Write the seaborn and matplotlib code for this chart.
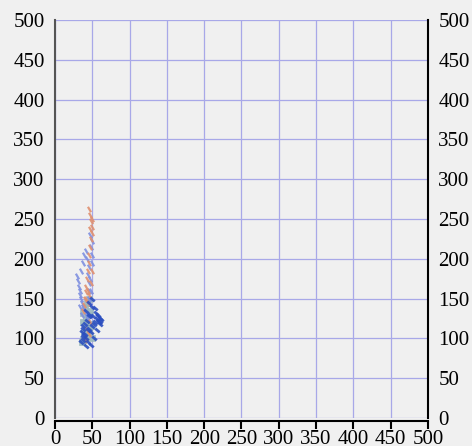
import pandas as pd
import matplotlib.pyplot as plt
import seaborn as sns

# 점 데이터 (그림에서 눈으로 읽은 값)
dark_x = [35, 37, 38, 40, 42, 44, 46, 48, 50, 52, 54, 56, 58, 60, 62, 40, 43, 47, 51, 55,
          59, 38, 41, 45, 49, 53, 57, 36, 39, 44, 48, 52, 56, 60, 46, 50, 37, 42, 61, 58]
dark_y = [95, 98, 102, 105, 100, 110, 112, 108, 115, 118, 120, 125, 128, 126, 124, 118, 122, 130, 128, 132,
          120, 112, 135, 128, 140, 138, 130, 108, 104, 96, 92, 100, 110, 122, 145, 150, 115, 90, 118, 122]

light_x = [30, 31, 32, 33, 34, 35, 36, 38, 40, 42, 44, 46, 48, 47, 45, 43, 41, 39, 37, 35,
           48, 49, 50, 46, 44, 33, 36, 49, 45, 47]
light_y = [178, 172, 165, 160, 155, 150, 145, 140, 135, 130, 125, 150, 160, 175, 190, 200, 210, 205, 195, 185,
           215, 222, 205, 170, 180, 140, 130, 195, 160, 230]

salmon_x = [46, 47, 48, 49, 50, 48, 47, 46, 45, 44, 43, 42, 41, 40, 39, 38, 44, 46, 48, 50,
            45, 42, 40, 43, 47, 49, 47, 42, 44]
salmon_y = [262, 255, 248, 240, 232, 225, 215, 205, 195, 185, 175, 165, 158, 150, 142, 135, 145, 155, 170, 185,
            105, 100, 98, 110, 120, 250, 238, 150, 160]

teal_x = [36, 38, 40, 42, 44, 46, 48, 38, 41, 44, 47, 40, 43, 46, 39, 42, 45, 37, 50]
teal_y = [95, 98, 100, 102, 105, 110, 115, 120, 125, 130, 135, 140, 145, 150, 108, 112, 118, 132, 100]

ticks = [0, 50, 100, 150, 200, 250, 300, 350, 400, 450, 500]

groups = [
    ("teal", teal_x, teal_y, "#9ab8bc", "s", 16, 0.5),
    ("light", light_x, light_y, "#7f90e0", (2, 0, 30), 22, 1.6),
    ("salmon", salmon_x, salmon_y, "#e09070", (2, 0, 30), 20, 1.6),
    ("dark", dark_x, dark_y, "#2c4fc0", (2, 0, 50), 18, 2.0),
]

plt.rcParams["font.family"] = ["Liberation Serif", "DejaVu Serif"]

fig = plt.figure(figsize=(4.72, 4.46), dpi=100, facecolor="#f0f0f0")
ax = fig.add_axes([0.1165, 0.0628, 0.7903, 0.8922])
ax.set_facecolor("#f0f0f0")

for name, xs, ys, color, marker, size, lw in groups:
    df = pd.DataFrame({"x": xs, "y": ys})
    sns.scatterplot(data=df, x="x", y="y", ax=ax, color=color, marker=marker,
                    s=size, linewidth=lw, edgecolor=color, alpha=0.9, zorder=3)

ax.set_xlim(0, 500)
ax.set_ylim(0, 500)
ax.set_xticks(ticks)
ax.set_yticks(ticks)
ax.grid(True, color="#a8a8e8", linewidth=0.9)
ax.set_axisbelow(True)
ax.set_xlabel("")
ax.set_ylabel("")

ax.spines["top"].set_visible(False)
ax.spines["left"].set_color("#555555")
ax.spines["left"].set_linewidth(1.5)
ax.spines["right"].set_color("black")
ax.spines["right"].set_linewidth(1.5)
ax.spines["bottom"].set_color("black")
ax.spines["bottom"].set_linewidth(1.5)
ax.spines["bottom"].set_position(("outward", 2))

ax.tick_params(axis="y", which="both", left=False, right=False,
               labelleft=True, labelright=True, labelsize=15, pad=4)
ax.tick_params(axis="x", direction="out", length=6, width=1.5, color="black",
               labelsize=15, pad=1)

fig.savefig("out.png", dpi=100, facecolor="#f0f0f0")
